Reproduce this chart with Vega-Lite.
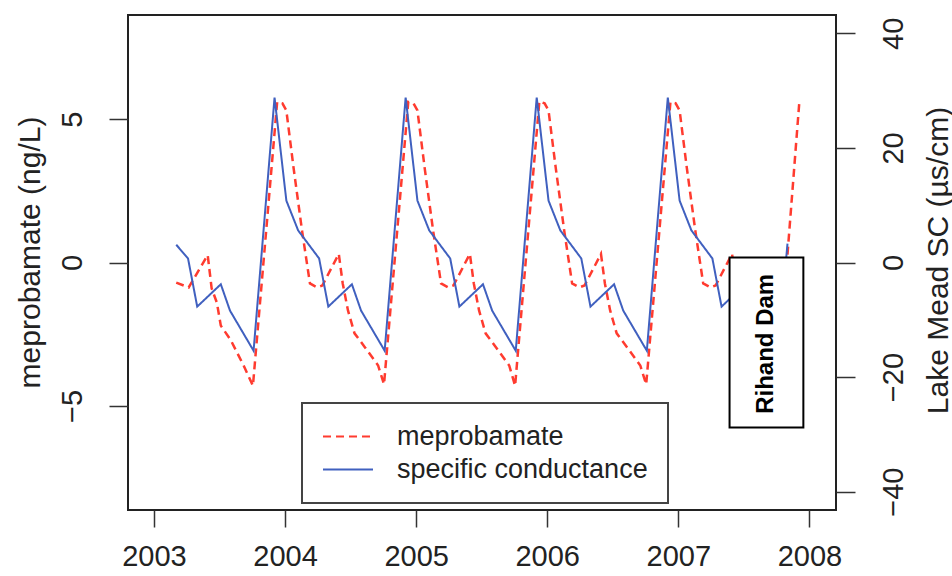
{
  "$schema": "https://vega.github.io/schema/vega-lite/v6.json",
  "width": 708,
  "height": 495,
  "autosize": {"type": "none"},
  "padding": {"left": 128, "top": 15, "right": 116, "bottom": 66},
  "background": "white",
  "config": {
    "view": {"stroke": "#222", "strokeWidth": 2},
    "font": "Liberation Sans",
    "axis": {
      "grid": false, "domain": false, "tickColor": "#333", "tickWidth": 1.5,
      "labelFont": "Liberation Sans", "titleFont": "Liberation Sans",
      "labelColor": "#222", "titleColor": "#222",
      "labelFontSize": 29, "titleFontSize": 30, "titleFontWeight": "normal",
      "labelOverlap": false, "labelFlush": false
    },
    "legend": {
      "orient": "none", "legendX": 174, "legendY": 388, "direction": "vertical",
      "strokeColor": "#444", "strokeWidth": 2, "fillColor": "white", "padding": 20,
      "symbolType": "stroke", "symbolSize": 2500, "symbolStrokeWidth": 2,
      "labelFont": "Liberation Sans", "labelFontSize": 27, "labelColor": "#222",
      "labelOffset": 23, "rowPadding": 5, "clipHeight": 27, "labelLimit": 500, "cornerRadius": 0
    }
  },
  "data": {"values": [
    {"t": 2003.17, "v": -0.7, "s": "meprobamate"},
    {"t": 2003.265, "v": -0.87, "s": "meprobamate"},
    {"t": 2003.41, "v": 0.26, "s": "meprobamate"},
    {"t": 2003.44, "v": -0.9, "s": "meprobamate"},
    {"t": 2003.48, "v": -1.4, "s": "meprobamate"},
    {"t": 2003.51, "v": -2.2, "s": "meprobamate"},
    {"t": 2003.585, "v": -2.7, "s": "meprobamate"},
    {"t": 2003.685, "v": -3.6, "s": "meprobamate"},
    {"t": 2003.755, "v": -4.3, "s": "meprobamate"},
    {"t": 2003.94, "v": 5.6, "s": "meprobamate"},
    {"t": 2003.98, "v": 5.55, "s": "meprobamate"},
    {"t": 2004.01, "v": 5.3, "s": "meprobamate"},
    {"t": 2004.065, "v": 3.3, "s": "meprobamate"},
    {"t": 2004.13, "v": 1.1, "s": "meprobamate"},
    {"t": 2004.19, "v": -0.73, "s": "meprobamate"},
    {"t": 2004.245, "v": -0.87, "s": "meprobamate"},
    {"t": 2004.285, "v": -0.8, "s": "meprobamate"},
    {"t": 2004.41, "v": 0.3, "s": "meprobamate"},
    {"t": 2004.44, "v": -0.73, "s": "meprobamate"},
    {"t": 2004.48, "v": -1.67, "s": "meprobamate"},
    {"t": 2004.53, "v": -2.47, "s": "meprobamate"},
    {"t": 2004.61, "v": -2.96, "s": "meprobamate"},
    {"t": 2004.71, "v": -3.59, "s": "meprobamate"},
    {"t": 2004.755, "v": -4.25, "s": "meprobamate"},
    {"t": 2004.94, "v": 5.6, "s": "meprobamate"},
    {"t": 2004.98, "v": 5.55, "s": "meprobamate"},
    {"t": 2005.01, "v": 5.3, "s": "meprobamate"},
    {"t": 2005.065, "v": 3.3, "s": "meprobamate"},
    {"t": 2005.13, "v": 1.1, "s": "meprobamate"},
    {"t": 2005.19, "v": -0.73, "s": "meprobamate"},
    {"t": 2005.245, "v": -0.87, "s": "meprobamate"},
    {"t": 2005.285, "v": -0.8, "s": "meprobamate"},
    {"t": 2005.41, "v": 0.3, "s": "meprobamate"},
    {"t": 2005.44, "v": -0.73, "s": "meprobamate"},
    {"t": 2005.48, "v": -1.67, "s": "meprobamate"},
    {"t": 2005.53, "v": -2.47, "s": "meprobamate"},
    {"t": 2005.61, "v": -2.96, "s": "meprobamate"},
    {"t": 2005.71, "v": -3.59, "s": "meprobamate"},
    {"t": 2005.755, "v": -4.3, "s": "meprobamate"},
    {"t": 2005.94, "v": 5.62, "s": "meprobamate"},
    {"t": 2005.98, "v": 5.55, "s": "meprobamate"},
    {"t": 2006.01, "v": 5.3, "s": "meprobamate"},
    {"t": 2006.065, "v": 3.3, "s": "meprobamate"},
    {"t": 2006.13, "v": 1.1, "s": "meprobamate"},
    {"t": 2006.19, "v": -0.73, "s": "meprobamate"},
    {"t": 2006.245, "v": -0.87, "s": "meprobamate"},
    {"t": 2006.285, "v": -0.8, "s": "meprobamate"},
    {"t": 2006.41, "v": 0.3, "s": "meprobamate"},
    {"t": 2006.44, "v": -0.73, "s": "meprobamate"},
    {"t": 2006.48, "v": -1.67, "s": "meprobamate"},
    {"t": 2006.53, "v": -2.47, "s": "meprobamate"},
    {"t": 2006.61, "v": -2.96, "s": "meprobamate"},
    {"t": 2006.71, "v": -3.59, "s": "meprobamate"},
    {"t": 2006.755, "v": -4.25, "s": "meprobamate"},
    {"t": 2006.94, "v": 5.6, "s": "meprobamate"},
    {"t": 2006.98, "v": 5.55, "s": "meprobamate"},
    {"t": 2007.01, "v": 5.3, "s": "meprobamate"},
    {"t": 2007.065, "v": 3.3, "s": "meprobamate"},
    {"t": 2007.13, "v": 1.1, "s": "meprobamate"},
    {"t": 2007.19, "v": -0.73, "s": "meprobamate"},
    {"t": 2007.245, "v": -0.87, "s": "meprobamate"},
    {"t": 2007.285, "v": -0.8, "s": "meprobamate"},
    {"t": 2007.41, "v": 0.3, "s": "meprobamate"},
    {"t": 2007.44, "v": -0.73, "s": "meprobamate"},
    {"t": 2007.48, "v": -1.67, "s": "meprobamate"},
    {"t": 2007.53, "v": -2.47, "s": "meprobamate"},
    {"t": 2007.61, "v": -2.96, "s": "meprobamate"},
    {"t": 2007.71, "v": -3.59, "s": "meprobamate"},
    {"t": 2007.755, "v": -4.3, "s": "meprobamate"},
    {"t": 2007.924, "v": 5.64, "s": "meprobamate"},
    {"t": 2003.17, "v": 3.1, "s": "specific conductance"},
    {"t": 2003.26, "v": 0.7, "s": "specific conductance"},
    {"t": 2003.33, "v": -7.7, "s": "specific conductance"},
    {"t": 2003.51, "v": -3.8, "s": "specific conductance"},
    {"t": 2003.58, "v": -8.4, "s": "specific conductance"},
    {"t": 2003.76, "v": -15.4, "s": "specific conductance"},
    {"t": 2003.92, "v": 28.8, "s": "specific conductance"},
    {"t": 2004.01, "v": 10.8, "s": "specific conductance"},
    {"t": 2004.10, "v": 5.6, "s": "specific conductance"},
    {"t": 2004.26, "v": 0.7, "s": "specific conductance"},
    {"t": 2004.33, "v": -7.7, "s": "specific conductance"},
    {"t": 2004.51, "v": -3.8, "s": "specific conductance"},
    {"t": 2004.58, "v": -8.4, "s": "specific conductance"},
    {"t": 2004.76, "v": -15.4, "s": "specific conductance"},
    {"t": 2004.92, "v": 28.8, "s": "specific conductance"},
    {"t": 2005.01, "v": 10.8, "s": "specific conductance"},
    {"t": 2005.10, "v": 5.6, "s": "specific conductance"},
    {"t": 2005.26, "v": 0.7, "s": "specific conductance"},
    {"t": 2005.33, "v": -7.7, "s": "specific conductance"},
    {"t": 2005.51, "v": -3.8, "s": "specific conductance"},
    {"t": 2005.58, "v": -8.4, "s": "specific conductance"},
    {"t": 2005.76, "v": -15.4, "s": "specific conductance"},
    {"t": 2005.92, "v": 28.8, "s": "specific conductance"},
    {"t": 2006.01, "v": 10.8, "s": "specific conductance"},
    {"t": 2006.10, "v": 5.6, "s": "specific conductance"},
    {"t": 2006.26, "v": 0.7, "s": "specific conductance"},
    {"t": 2006.33, "v": -7.7, "s": "specific conductance"},
    {"t": 2006.51, "v": -3.8, "s": "specific conductance"},
    {"t": 2006.58, "v": -8.4, "s": "specific conductance"},
    {"t": 2006.76, "v": -15.4, "s": "specific conductance"},
    {"t": 2006.92, "v": 28.8, "s": "specific conductance"},
    {"t": 2007.01, "v": 10.8, "s": "specific conductance"},
    {"t": 2007.10, "v": 5.6, "s": "specific conductance"},
    {"t": 2007.26, "v": 0.7, "s": "specific conductance"},
    {"t": 2007.33, "v": -7.7, "s": "specific conductance"},
    {"t": 2007.51, "v": -3.8, "s": "specific conductance"},
    {"t": 2007.58, "v": -8.4, "s": "specific conductance"},
    {"t": 2007.76, "v": -15.4, "s": "specific conductance"},
    {"t": 2007.833, "v": 3.3, "s": "specific conductance"}
  ]},
  "layer": [
    {
      "transform": [{"filter": "datum.s === 'meprobamate'"}],
      "mark": {"type": "line", "strokeWidth": 2.5},
      "encoding": {
        "x": {"field": "t", "type": "quantitative", "title": null,
          "scale": {"domain": [2002.802, 2008.203], "nice": false, "zero": false},
          "axis": {"values": [2003, 2004, 2005, 2006, 2007, 2008], "format": "d", "tickSize": 17, "labelPadding": 15, "title": null}},
        "y": {"field": "v", "type": "quantitative",
          "scale": {"domain": [-8.63, 8.63], "nice": false, "zero": false},
          "axis": {"orient": "left", "values": [-5, 0, 5], "tickSize": 19, "labelAngle": 270, "labelAlign": "center", "labelBaseline": "middle", "labelPadding": 37,
            "title": "meprobamate (ng/L)", "titleAngle": 270, "titleX": -98, "titleY": 237, "titleAlign": "center", "titleBaseline": "middle"}},
        "color": {"field": "s", "type": "nominal", "title": null,
          "scale": {"domain": ["meprobamate", "specific conductance"], "range": ["#FF3B2F", "#4060BF"]}},
        "strokeDash": {"field": "s", "type": "nominal", "title": null,
          "scale": {"domain": ["meprobamate", "specific conductance"], "range": [[8, 5], [1, 0]]}}
      }
    },
    {
      "transform": [{"filter": "datum.s === 'specific conductance'"}],
      "mark": {"type": "line", "strokeWidth": 2},
      "encoding": {
        "x": {"field": "t", "type": "quantitative", "title": null,
          "scale": {"domain": [2002.802, 2008.203], "nice": false, "zero": false}},
        "y": {"field": "v", "type": "quantitative",
          "scale": {"domain": [-43.2, 43.2], "nice": false, "zero": false},
          "axis": {"orient": "right", "values": [-40, -20, 0, 20, 40], "tickSize": 19, "labelAngle": 270, "labelAlign": "center", "labelBaseline": "middle", "labelPadding": 38,
            "title": "Lake Mead SC (µs/cm)", "titleAngle": 270, "titleX": 102, "titleY": 245, "titleAlign": "center", "titleBaseline": "middle"}},
        "color": {"field": "s", "type": "nominal", "title": null,
          "scale": {"domain": ["meprobamate", "specific conductance"], "range": ["#FF3B2F", "#4060BF"]}},
        "strokeDash": {"field": "s", "type": "nominal", "title": null,
          "scale": {"domain": ["meprobamate", "specific conductance"], "range": [[8, 5], [1, 0]]}}
      }
    },
    {
      "data": {"values": [{"x1": 2007.391, "x2": 2007.954, "y1": 0.87, "y2": -28.8}]},
      "mark": {"type": "rect", "fill": "white", "stroke": "black", "strokeWidth": 2},
      "encoding": {
        "x": {"field": "x1", "type": "quantitative", "title": null},
        "x2": {"field": "x2"},
        "y": {"field": "y1", "type": "quantitative", "scale": {"domain": [-43.2, 43.2], "nice": false, "zero": false}, "axis": null},
        "y2": {"field": "y2"}
      }
    },
    {
      "data": {"values": [{"x": 2007.672, "y": -14.2, "label": "Rihand Dam"}]},
      "mark": {"type": "text", "angle": 270, "fontWeight": "bold", "font": "Liberation Sans", "color": "black", "align": "center", "baseline": "middle"},
      "encoding": {
        "x": {"field": "x", "type": "quantitative", "title": null},
        "y": {"field": "y", "type": "quantitative", "scale": {"domain": [-43.2, 43.2], "nice": false, "zero": false}, "axis": null},
        "text": {"field": "label"},
        "size": {"value": 24}
      }
    }
  ],
  "resolve": {"scale": {"y": "independent"}}
}
